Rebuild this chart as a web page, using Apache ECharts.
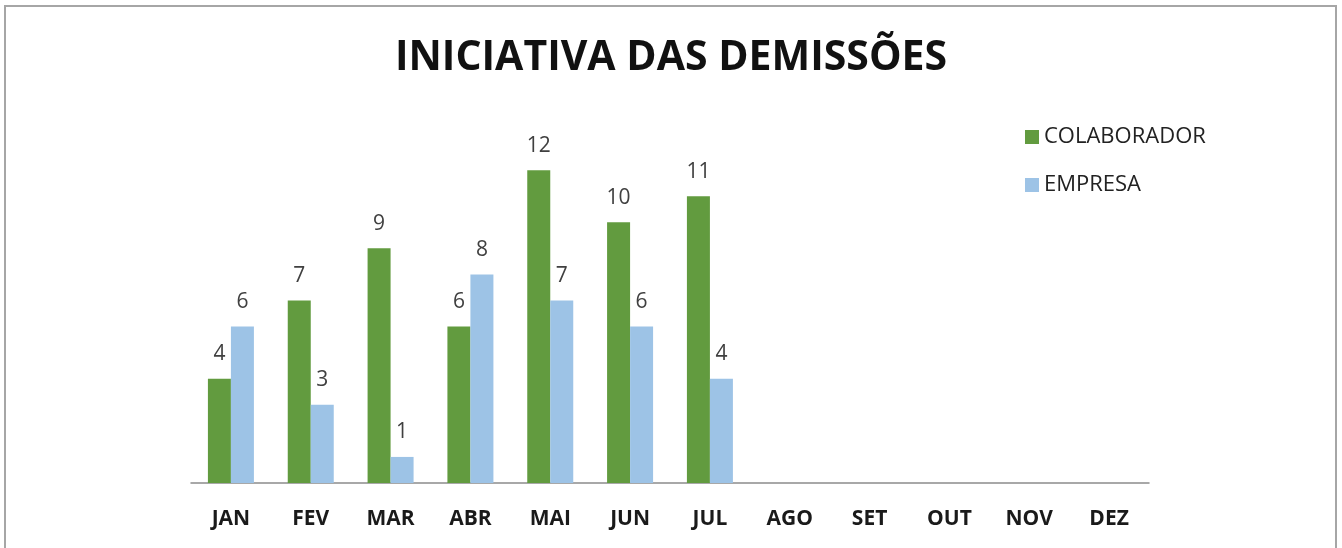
<!DOCTYPE html>
<html><head><meta charset="utf-8">
<script src="https://cdn.jsdelivr.net/npm/echarts@6/dist/echarts.min.js"></script>
<style>html,body{margin:0;padding:0;background:#fff}#c{width:1342px;height:548px}</style>
</head><body><div id="c"></div>
<script>
const months = ['JAN','FEV','MAR','ABR','MAI','JUN','JUL','AGO','SET','OUT','NOV','DEZ'];
const colaborador = [4, 7, 9, 6, 12, 10, 11, null, null, null, null, null];
const empresa = [6, 3, 1, 8, 7, 6, 4, null, null, null, null, null];
const seriesNames = ['COLABORADOR', 'EMPRESA'];

const chart = echarts.init(document.getElementById('c'), null, {renderer: 'canvas'});
const font = 'Open Sans';
const lbl = {show: true, position: 'top', distance: 14, color: '#404040', fontFamily: font, fontSize: 21};
chart.setOption({
  animation: false,
  title: {text: 'INICIATIVA DAS DEMISSÕES', left: 'center', top: 33,
    textStyle: {fontFamily: font, fontWeight: 'bold', fontSize: 41, color: '#111'}},
  legend: {orient: 'vertical', left: 1020, top: 121, itemWidth: 14, itemHeight: 14, itemGap: 26,
    icon: 'rect', data: seriesNames,
    textStyle: {fontFamily: font, fontSize: 22, color: '#222', padding: [0,0,0,0]}},
  graphic: [{type: 'rect', shape: {x: 5, y: 6, width: 1331, height: 560},
    style: {fill: 'none', stroke: '#a6a6a6', lineWidth: 2}, silent: true}],
  grid: {left: 191, right: 193, top: 118, bottom: 65},
  xAxis: {type: 'category', data: months,
    axisLine: {lineStyle: {color: '#8c8c8c', width: 1.5}}, axisTick: {show: false},
    axisLabel: {margin: 26, fontFamily: font, fontWeight: 'bold', fontSize: 21, color: '#1a1a1a'}},
  yAxis: {type: 'value', min: 0, max: 14, show: false, splitLine: {show: false}},
  series: [
    {name: seriesNames[0], type: 'bar', data: colaborador, barWidth: 23, barGap: '0%',
     itemStyle: {color: '#629b3f'}, label: lbl},
    {name: seriesNames[1], type: 'bar', data: empresa, barWidth: 23, barGap: '0%',
     itemStyle: {color: '#9dc3e6'}, label: lbl}
  ]
});
</script></body></html>
